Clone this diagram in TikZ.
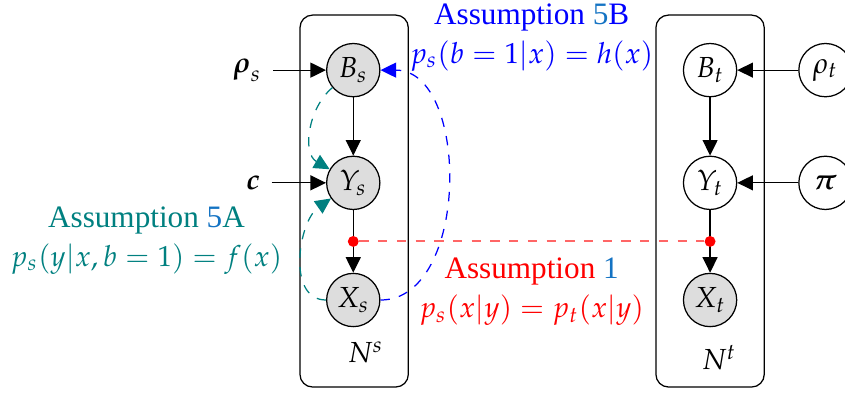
\documentclass[tikz,border=0pt]{standalone}
\usepackage{amsmath,amssymb}
\usepackage{mathpazo}
\usepackage[no-math]{fontspec}
\setmainfont[Scale=1.075]{Liberation Serif}
\usepackage{xcolor}
\usepackage{tikz}
\usetikzlibrary{arrows.meta,positioning}

\definecolor{numblue}{RGB}{20,115,195}
\tikzset{
  latent/.style={circle, draw, minimum size=0.6cm, inner sep=0pt},
  obs/.style={latent, fill=gray!27},
  plate/.style={draw, rounded corners},
  dot/.style={circle, fill=red, inner sep=0pt, minimum size=3.5pt},
}

\begin{document}
\begin{tikzpicture}[>={Triangle[length=5pt,width=4.8pt]},
  font=\fontsize{9.3}{12.5}\selectfont]
\useasboundingbox (-3.98,0.79) rectangle (5.54,-3.65);
% Source domain
\node[obs] (Bs) at (0,0) {$B_s$};
\node[obs] (Ys) at (0,-1.27) {$Y_s$};
\node[obs] (Xs) at (0,-2.59) {$X_s$};
\node[anchor=east] (rhos) at (-0.9,0) {$\boldsymbol{\rho}_s$};
\node[anchor=east] (c) at (-0.92,-1.27) {$\boldsymbol{c}$};
\node (Ns) at (0.14,-3.18) {$N^s$};
\draw[plate] (-0.6,0.62) rectangle (0.62,-3.57);

\draw[->] (rhos) -- (Bs);
\draw[->] (c) -- (Ys);
\draw[->] (Bs) -- (Ys);
\draw[->] (Ys) -- node[dot] (ds) {} (Xs);

% Target domain
\node[latent] (Bt) at (4.02,0) {$B_t$};
\node[latent] (Yt) at (4.02,-1.27) {$Y_t$};
\node[obs] (Xt) at (4.02,-2.59) {$X_t$};
\node[latent] (rhot) at (5.32,0) {$\rho_t$};
\node[latent] (pi) at (5.32,-1.27) {$\boldsymbol{\pi}$};
\node (Nt) at (4.12,-3.24) {$N^t$};
\draw[plate] (3.41,0.62) rectangle (4.63,-3.57);

\draw[->] (rhot) -- (Bt);
\draw[->] (pi) -- (Yt);
\draw[->] (Bt) -- (Yt);
\draw[->] (Yt) -- node[dot] (dt) {} (Xt);

% Assumptions
\draw[semithick, dashed, red!60] (ds) -- (dt);
\draw[->, dashed, teal] (Bs) to[out=220, in=150] (Ys);
\draw[->, dashed, teal] (Xs) to[out=180, in=215] (Ys);
\draw[->, dashed, blue] (Xs) to[out=0, in=0] (Bs);

\node[blue, align=center] (a5b) at (2.01,0.37)
  {Assumption \textcolor{numblue}{5}B\\ $p_s(b=1|x)=h(x)$};
\node[teal, align=center] (a5a) at (-2.33,-1.92)
  {Assumption \textcolor{numblue}{5}A\\ $p_s(y|x,b=1)=f(x)$};
\node[red, align=center] (a1) at (2.01,-2.50)
  {Assumption \textcolor{numblue}{1}\\ $p_s(x|y)=p_t(x|y)$};
\end{tikzpicture}
\end{document}
